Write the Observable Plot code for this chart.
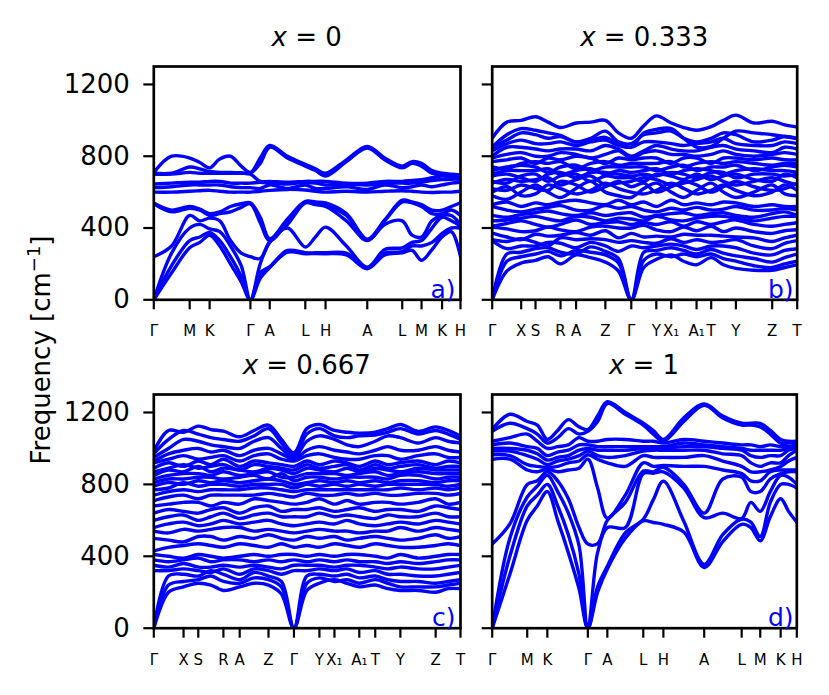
<!DOCTYPE html>
<html><head><meta charset="utf-8">
<script src="https://cdn.jsdelivr.net/npm/d3@7"></script>
<script src="https://cdn.jsdelivr.net/npm/@observablehq/plot@0.6"></script>
<style>
body{margin:0;background:#fff;}
#wrap{position:relative;width:829px;height:695px;font-family:"DejaVu Sans";overflow:hidden;}
</style></head><body><div id="wrap"></div>
<script>
// ---------- tick positions & labels ----------
const yTicks = [0, 400, 800, 1200];
const ticksA = [0, 0.117, 0.182, 0.315, 0.378, 0.494, 0.560, 0.696, 0.810, 0.873, 0.940, 1];
const labelsA = ["Γ","M","K","Γ","A","L","H","A","L","M","K","H"];
const ticksB = [0, 0.095, 0.142, 0.224, 0.275, 0.371, 0.456, 0.538, 0.587, 0.670, 0.718, 0.799, 0.918, 1];
const labelsB = ["Γ","X","S","R","A","Z","Γ","Y","X₁","A₁","T","Y","Z","T"];
const ticksC = [0, 0.097, 0.145, 0.227, 0.280, 0.374, 0.457, 0.540, 0.589, 0.670, 0.722, 0.804, 0.919, 1];
const ticksD = [0, 0.115, 0.181, 0.314, 0.378, 0.496, 0.562, 0.696, 0.819, 0.880, 0.947, 1];

// ---------- sample positions along the k-path ----------
const gridA = [0,.058,.117,.15,.182,.215,.25,.285,.315,.347,.378,.436,.494,.527,.56,.628,.696,.753,.81,.842,.873,.907,.94,.97,1];
const gridD = [0,.058,.115,.148,.181,.215,.25,.285,.314,.346,.378,.437,.496,.529,.562,.629,.696,.757,.819,.849,.880,.913,.947,.973,1];
const gridB = [0,.048,.095,.142,.183,.224,.275,.323,.371,.414,.456,.497,.538,.587,.628,.670,.718,.758,.799,.858,.918,.959,1];
const gridC = [0,.048,.097,.145,.186,.227,.280,.327,.374,.416,.457,.499,.540,.589,.630,.670,.722,.763,.804,.862,.919,.960,1];

// ---------- panel a (x = 0): frequencies (cm^-1) of 12 branches at each grid point ----------
const freqA = [
 [0,0,0,240,535,540,600,625,645,700,705,710],
 [150,190,260,300,490,500,600,630,650,700,705,800],
 [290,330,400,470,510,520,605,640,655,710,740,790],
 [320,350,420,440,500,505,608,640,655,705,730,765],
 [360,375,395,455,470,480,610,640,660,705,715,735],
 [300,330,380,440,480,490,605,640,660,705,710,785],
 [200,240,300,330,490,520,600,630,650,705,710,800],
 [100,130,190,260,515,535,600,625,650,705,708,745],
 [0,0,0,240,535,540,600,625,650,700,705,710],
 [120,150,200,230,430,460,605,620,655,660,760,790],
 [180,185,320,325,330,340,610,640,650,660,850,860],
 [265,275,400,420,430,450,615,620,645,655,790,800],
 [257,262,294,540,545,548,612,640,655,660,745,755],
 [258,262,350,530,540,545,605,620,650,660,720,730],
 [257,262,405,520,526,540,600,620,640,660,690,705],
 [250,260,300,440,470,480,605,630,645,650,770,780],
 [173,178,182,330,333,338,600,615,640,650,845,855],
 [250,260,280,420,440,445,605,640,650,660,780,790],
 [262,268,290,440,545,555,608,625,650,660,735,745],
 [275,300,320,360,540,545,605,630,650,665,760,770],
 [220,300,330,350,520,530,600,640,655,670,745,760],
 [280,320,400,440,480,500,598,630,665,680,705,720],
 [350,370,460,470,480,500,600,640,670,690,695,705],
 [380,400,440,470,500,520,600,650,672,685,690,700],
 [240,400,410,420,470,541,605,655,672,685,690,695]
];

// ---------- panel d (x = 1) ----------
const freqD = [
 [0,0,0,468,940,965,985,1000,1020,1040,1095,1105],
 [300,400,500,580,940,960,985,1000,1030,1060,1140,1190],
 [600,680,730,800,880,910,960,990,1010,1080,1110,1150],
 [680,740,790,820,870,900,940,970,1000,1040,1080,1130],
 [760,800,850,870,885,895,910,935,960,1000,1030,1050],
 [600,680,760,820,870,900,930,950,980,1010,1060,1100],
 [420,520,640,720,880,920,940,960,990,1020,1110,1160],
 [220,300,460,560,890,930,960,990,1020,1060,1080,1120],
 [0,0,0,468,940,965,985,1000,1020,1040,1095,1105],
 [200,230,420,470,780,940,960,990,1010,1040,1150,1180],
 [330,345,560,600,612,920,950,990,1010,1050,1250,1260],
 [500,530,560,700,740,900,960,990,1010,1050,1190,1200],
 [597,606,860,874,920,960,985,1000,1010,1040,1130,1141],
 [588,715,862,870,900,950,990,1000,1010,1040,1080,1100],
 [578,818,870,895,905,950,990,1000,1010,1030,1040,1050],
 [535,595,780,800,900,950,990,1010,1030,1050,1150,1170],
 [338,355,615,640,900,960,990,1010,1020,1040,1240,1247],
 [482,520,640,830,880,930,970,1000,1010,1030,1170,1180],
 [578,606,610,840,860,900,960,990,1000,1020,1130,1140],
 [560,590,700,760,820,870,920,960,990,1020,1130,1140],
 [486,510,650,760,820,870,900,950,990,1010,1120,1140],
 [620,700,760,830,870,880,920,960,990,1020,1080,1100],
 [720,800,850,860,880,900,920,960,990,1010,1030,1050],
 [650,800,840,870,880,930,960,990,1000,1010,1030,1040],
 [590,780,800,870,880,950,990,1000,1010,1020,1030,1040]
];

// ---------- panel b (x = 0.333): one row per branch ----------
const bandsB = [
 [0,160,205,220,240,200,250,235,210,160,0,180,225,250,215,195,235,195,175,165,165,180,195],
 [0,215,240,255,270,245,275,265,250,205,0,220,255,240,255,240,255,230,215,190,180,200,215],
 [0,255,265,285,290,265,255,295,270,230,0,265,275,290,275,255,280,260,245,230,210,235,255],
 [330,285,300,300,320,315,290,320,300,270,300,290,300,310,300,280,300,300,290,260,250,275,285],
 [335,325,340,320,300,345,335,340,335,320,330,320,315,340,320,335,320,325,335,300,285,315,330],
 [372,350,335,365,355,360,375,360,385,345,370,350,355,350,365,360,360,355,350,345,325,345,360],
 [405,395,380,385,405,390,380,405,410,400,400,415,390,380,405,385,410,380,400,380,370,385,390],
 [410,425,440,420,405,420,445,420,430,435,420,430,420,435,410,435,420,435,445,420,410,420,430],
 [440,445,455,465,450,440,465,460,440,455,450,440,465,445,440,455,465,465,455,440,455,465,465],
 [470,460,475,485,495,480,470,485,470,480,485,460,470,480,485,470,480,485,470,460,480,490,470],
 [520,500,490,505,515,525,500,500,525,510,520,500,490,510,500,515,500,505,520,500,500,510,500],
 [530,545,520,540,530,545,555,540,530,555,530,545,520,555,530,540,530,545,540,520,530,520,520],
 [580,560,600,640,600,570,620,660,600,580,570,620,650,600,570,610,650,600,570,600,640,590,580],
 [600,630,580,590,640,620,590,610,650,620,600,590,610,650,620,590,610,640,610,580,600,640,610],
 [620,610,640,620,610,660,640,600,630,660,630,650,600,630,660,640,600,630,660,630,610,620,650],
 [650,670,660,670,680,640,670,690,640,650,660,680,670,640,650,670,690,660,640,660,680,660,640],
 [660,650,690,700,660,690,700,660,690,680,680,660,700,690,670,700,670,690,700,670,660,700,680],
 [690,700,680,660,700,710,680,710,710,700,690,700,690,710,700,680,710,710,680,700,700,690,700],
 [700,720,720,720,730,700,720,730,700,720,710,720,730,700,720,730,720,700,720,730,720,720,710],
 [720,740,750,740,710,740,750,720,740,740,740,740,720,740,750,720,740,740,750,720,740,750,740],
 [740,730,760,770,760,770,730,760,770,750,760,760,760,770,740,760,770,760,770,760,750,760,760],
 [770,780,790,760,790,780,800,790,760,790,780,790,790,760,790,790,760,790,790,780,790,780,780],
 [790,810,820,800,800,820,810,790,810,830,790,820,830,810,810,800,810,830,810,800,810,820,810],
 [800,850,850,840,830,840,840,830,860,840,800,830,860,840,830,830,850,860,840,830,820,850,840],
 [830,870,890,870,870,880,860,880,890,860,850,880,880,870,860,870,880,900,870,860,860,880,870],
 [850,890,930,920,900,910,880,900,940,880,870,920,930,940,900,880,900,930,920,880,890,910,900],
 [851,920,954,945,930,916,879,890,905,870,851,930,950,954,900,851,855,900,940,930,920,910,898],
 [900,990,1000,1020,990,960,985,990,1000,930,900,970,1025,985,960,945,965,1000,1029,985,995,975,963]
];

// ---------- panel c (x = 0.667): one row per branch ----------
const bandsC = [
 [0,200,230,250,240,210,230,250,240,190,0,210,250,270,250,230,240,220,210,210,200,220,220],
 [0,240,260,270,290,260,250,280,270,230,0,250,280,260,270,250,270,250,230,230,230,240,250],
 [0,290,300,290,320,300,270,310,290,260,0,290,300,290,300,280,290,270,260,260,250,260,270],
 [320,320,330,320,310,330,300,330,320,300,320,320,330,320,330,310,320,300,300,290,290,300,310],
 [350,340,360,340,340,350,340,350,340,330,350,350,350,340,350,350,340,330,340,330,330,340,350],
 [380,370,380,390,370,380,380,370,380,370,380,370,380,370,380,370,370,360,370,360,370,380,380],
 [410,400,390,410,400,390,400,410,400,410,410,400,410,400,410,410,400,390,410,390,400,410,410],
 [430,450,460,470,460,450,470,460,450,470,450,460,450,470,460,450,470,460,450,450,460,470,460],
 [500,490,480,510,510,490,510,500,520,500,490,510,500,510,490,500,510,500,490,500,520,500,510],
 [540,530,550,540,550,560,560,540,550,540,530,540,550,540,540,530,540,540,560,540,560,550,540],
 [560,580,590,570,580,600,580,590,600,580,570,580,590,580,600,580,570,580,590,580,600,590,580],
 [600,620,630,600,620,640,610,630,640,620,620,620,640,620,630,620,610,630,620,620,640,620,620],
 [640,660,650,640,660,670,640,670,680,650,660,660,670,650,660,670,650,660,660,650,680,670,660],
 [680,690,700,700,680,700,690,720,710,700,690,700,720,690,710,690,700,700,690,700,720,690,700],
 [710,730,740,720,740,740,740,740,750,740,730,750,740,740,750,740,750,740,740,750,750,740,750],
 [740,760,770,760,770,770,770,780,780,770,760,770,770,770,770,770,770,770,780,770,780,770,780],
 [770,780,810,790,800,800,790,800,800,800,780,800,790,800,790,800,790,800,800,800,800,790,800],
 [790,810,800,820,810,820,810,820,830,820,800,810,820,810,820,810,820,810,820,820,810,820,820],
 [810,830,830,840,840,830,840,850,830,860,820,840,840,830,840,840,840,830,850,850,830,840,840],
 [830,850,860,860,850,870,850,860,870,840,840,860,860,860,850,860,870,850,860,870,860,860,860],
 [850,880,870,900,870,890,880,870,890,880,860,890,880,870,890,870,890,880,870,890,880,880,880],
 [870,890,910,890,900,910,880,910,900,890,880,910,890,900,910,880,910,890,900,910,890,900,900],
 [890,920,900,930,910,940,900,930,920,910,900,930,910,930,920,900,930,910,920,930,910,930,920],
 [920,940,960,940,950,960,930,960,970,940,930,960,970,950,940,940,960,960,940,960,970,950,950],
 [930,970,990,1000,980,990,960,990,1000,970,940,990,1010,990,980,970,990,1010,990,990,1010,990,980],
 [950,1000,1050,1040,1020,1010,1000,1040,1060,1000,950,1040,1070,1050,1020,1010,1040,1070,1060,1030,1060,1040,1030],
 [970,1050,1100,1080,1060,1050,1040,1070,1110,1030,960,1080,1110,1070,1060,1070,1075,1090,1110,1080,1100,1080,1050],
 [985,1100,1090,1124,1105,1096,1065,1100,1130,1050,976,1110,1133,1100,1090,1085,1090,1110,1133,1095,1120,1100,1068]
];

const titles = ["0", "0.333", "0.667", "1"];
const panelTags = ["a)", "b)", "c)", "d)"];

// ---------- drawing ----------
const wrap = document.getElementById("wrap");
const BLUE = "#0000ff";

function toRows(grid, cols, rows) {
  const out = [];
  if (cols) cols.forEach((c, j) => c.forEach((f, i) => out.push({k: grid[j], f, band: i})));
  if (rows) rows.forEach((r, i) => r.forEach((f, j) => out.push({k: grid[j], f, band: i})));
  return out;
}

function panel(o) {
  const data = toRows(o.grid, o.cols, o.rows);
  const lab = new Map(o.ticks.map((t, i) => [t, o.labels[i]]));
  const svg = Plot.plot({
    width: o.width, height: o.height,
    marginLeft: o.mL, marginRight: o.mR, marginTop: o.mT, marginBottom: o.mB,
    style: {fontFamily: "DejaVu Sans", fontSize: "26px", background: "transparent", overflow: "visible", color: "black"},
    x: {domain: [0, 1]},
    y: {domain: [0, 1300]},
    marks: [
      Plot.line(data, {x: "k", y: "f", z: "band", stroke: BLUE, strokeWidth: 3.4, curve: "catmull-rom", clip: true}),
      Plot.axisX({ticks: o.ticks, tickFormat: d => lab.get(d), tickSize: 10, tickPadding: 16, fontSize: 15, label: null, strokeWidth: 2.2}),
      Plot.axisY({ticks: yTicks, tickFormat: o.showY ? (d => String(d)) : (() => ""), tickSize: 10, tickPadding: 14, label: null, strokeWidth: 2.2}),
      Plot.frame({stroke: "black", strokeWidth: 2.7})
    ]
  });
  svg.style.position = "absolute";
  svg.style.left = o.left + "px";
  svg.style.top = o.top + "px";
  wrap.appendChild(svg);
}

panel({grid: gridA, cols: freqA, ticks: ticksA, labels: labelsA, showY: true,
  left: 0, top: 0, width: 475, height: 345, mL: 153.3, mR: 15, mT: 66, mB: 45.7});
panel({grid: gridB, rows: bandsB, ticks: ticksB, labels: labelsB, showY: false,
  left: 475, top: 0, width: 354, height: 345, mL: 16.7, mR: 32.3, mT: 66, mB: 45.7});
panel({grid: gridC, rows: bandsC, ticks: ticksC, labels: labelsB, showY: true,
  left: 0, top: 345, width: 475, height: 350, mL: 153.3, mR: 15, mT: 49, mB: 67.3});
panel({grid: gridD, cols: freqD, ticks: ticksD, labels: labelsA, showY: false,
  left: 475, top: 345, width: 354, height: 350, mL: 16.7, mR: 32.7, mT: 49, mB: 67.3});

// ---------- text overlay: titles, y label, panel tags ----------
const ov = d3.select(wrap).append("svg")
  .attr("width", 829).attr("height", 695)
  .style("position", "absolute").style("left", "0px").style("top", "0px")
  .style("font-family", "DejaVu Sans").style("pointer-events", "none");

const titlePos = [[306.7, 46], [644.2, 46], [306.7, 373.5], [644, 373.5]];
titles.forEach((t, i) => {
  const tx = ov.append("text").attr("x", titlePos[i][0]).attr("y", titlePos[i][1])
    .attr("text-anchor", "middle").attr("font-size", 26).attr("fill", "black");
  tx.append("tspan").attr("font-style", "italic").text("x");
  tx.append("tspan").text(" = " + t);
});

const tagPos = [[455.5, 297.5], [793.5, 297.5], [455.5, 626], [793.5, 626]];
panelTags.forEach((t, i) => {
  ov.append("text").attr("x", tagPos[i][0]).attr("y", tagPos[i][1])
    .attr("text-anchor", "end").attr("font-size", 25).attr("fill", BLUE).text(t);
});

const yl = ov.append("text").attr("transform", "translate(50,350) rotate(-90)")
  .attr("text-anchor", "middle").attr("font-size", 26).attr("fill", "black");
yl.append("tspan").text("Frequency [cm");
yl.append("tspan").attr("font-size", 18).attr("dy", -10).text("−1");
yl.append("tspan").attr("dy", 10).text("]");
</script></body></html>
